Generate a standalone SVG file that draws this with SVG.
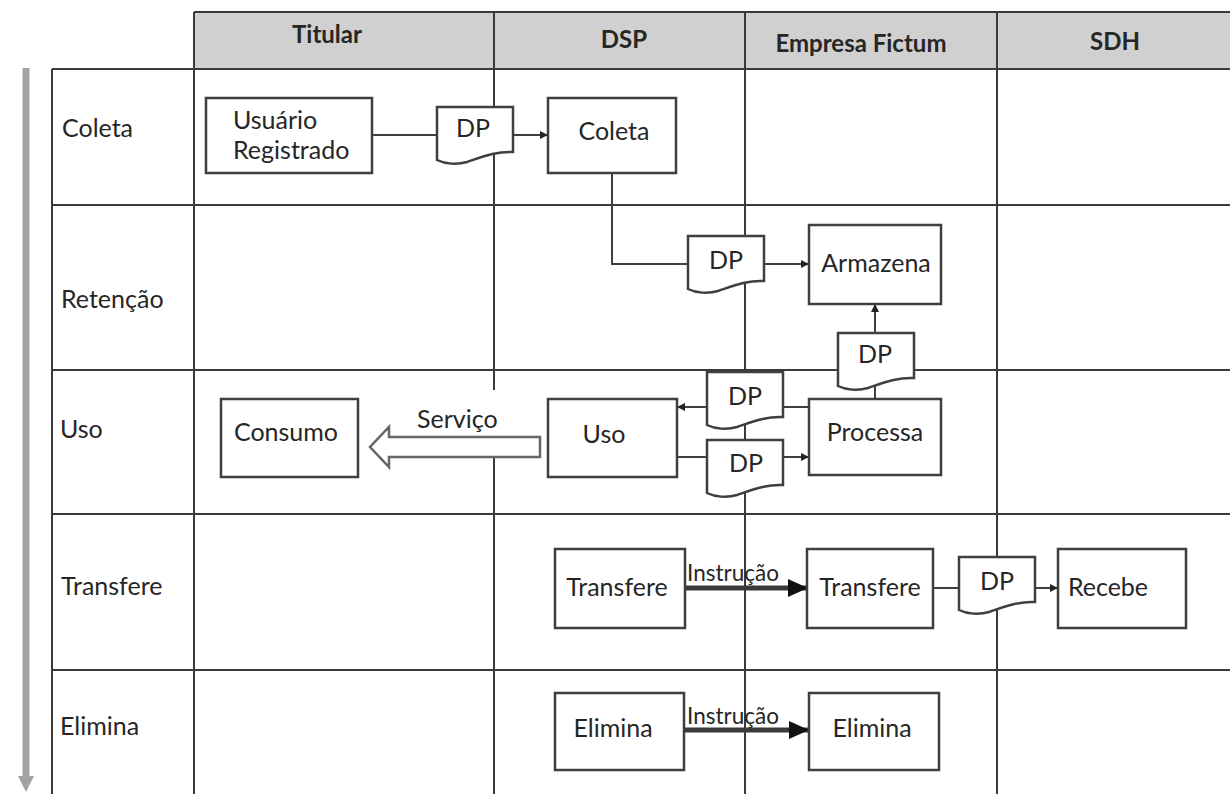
<svg xmlns="http://www.w3.org/2000/svg" xmlns:xlink="http://www.w3.org/1999/xlink" width="1230" height="794" viewBox="0 0 1230 794">
  <style>
    .grid { stroke: #3a3a3a; stroke-width: 2; fill: none; }
    .hdr { fill: #d0d0d0; stroke: none; }
    .htxt { font-family: Lato, "Open Sans", sans-serif; font-weight: bold; font-size: 24px; fill: #262626; text-anchor: middle; }
    .lbl { font-family: Lato, "Open Sans", sans-serif; font-size: 25px; fill: #262626; }
    .ntxt { font-family: Lato, "Open Sans", sans-serif; font-size: 25px; fill: #262626; text-anchor: middle; }
    .small { font-family: Lato, "Open Sans", sans-serif; font-size: 22.5px; fill: #262626; }
    .box { fill: #ffffff; stroke: #3f3f3f; stroke-width: 2.5; }
    .doc { fill: #ffffff; stroke: #3f3f3f; stroke-width: 2.5; }
    .conn { stroke: #3f3f3f; stroke-width: 2; fill: none; }
    .thick { stroke: #3a3a3a; stroke-width: 5; fill: none; }
    .hollow { fill: #ffffff; stroke: #666666; stroke-width: 2.5; }
  </style>
  <defs>
    <path id="docshape" d="M0,0 H76 V45 C60,44 45,50 30,55 C20,58 8,57 0,53 Z"/>
    <marker id="arr" markerUnits="userSpaceOnUse" markerWidth="9" markerHeight="8" refX="8" refY="4" orient="auto">
      <path d="M0,0 L8,4 L0,8 Z" fill="#222222"/>
    </marker>
    <marker id="big" markerUnits="userSpaceOnUse" markerWidth="22" markerHeight="18" refX="20" refY="9" orient="auto">
      <path d="M0,0 L20,9 L0,18 Z" fill="#111111"/>
    </marker>
  </defs>
  <rect width="1230" height="794" fill="#ffffff"/>

  <g id="grid">
    <rect class="hdr" x="194" y="12" width="1040" height="57"/>
    <line class="grid" x1="194" y1="12" x2="1230" y2="12"/>
    <line class="grid" x1="52" y1="69" x2="1230" y2="69"/>
    <line class="grid" x1="52" y1="205" x2="1230" y2="205"/>
    <line class="grid" x1="52" y1="370" x2="1230" y2="370"/>
    <line class="grid" x1="52" y1="514" x2="1230" y2="514"/>
    <line class="grid" x1="52" y1="670" x2="1230" y2="670"/>
    <line class="grid" x1="52" y1="69" x2="52" y2="794"/>
    <line class="grid" x1="194" y1="12" x2="194" y2="794"/>
    <line class="grid" x1="494" y1="12" x2="494" y2="794"/>
    <line class="grid" x1="745" y1="12" x2="745" y2="794"/>
    <line class="grid" x1="997" y1="12" x2="997" y2="794"/>
    <line x1="26" y1="68" x2="26" y2="778" stroke="#a3a3a3" stroke-width="7"/>
    <path d="M18,776 L34,776 L26,792 Z" fill="#a3a3a3"/>
    <text class="htxt" x="327" y="43">Titular</text>
    <text class="htxt" x="624" y="48">DSP</text>
    <text class="htxt" x="861" y="52">Empresa Fictum</text>
    <text class="htxt" x="1115" y="50">SDH</text>
    <text class="lbl" x="62" y="137">Coleta</text>
    <text class="lbl" x="61" y="308">Retenção</text>
    <text class="lbl" x="60" y="438">Uso</text>
    <text class="lbl" x="61" y="595">Transfere</text>
    <text class="lbl" x="60" y="735">Elimina</text>
  </g>

  <g id="connectors">
    <line class="conn" x1="372" y1="135" x2="437" y2="135"/>
    <line class="conn" x1="513" y1="135" x2="548" y2="135" marker-end="url(#arr)"/>
    <polyline class="conn" points="612,173 612,264 688,264"/>
    <line class="conn" x1="764" y1="264" x2="809" y2="264" marker-end="url(#arr)"/>
    <line class="conn" x1="875" y1="399" x2="875" y2="380"/>
    <line class="conn" x1="875" y1="333" x2="875" y2="304" marker-end="url(#arr)"/>
    <line class="conn" x1="809" y1="407" x2="782" y2="407"/>
    <line class="conn" x1="708" y1="407" x2="677" y2="407" marker-end="url(#arr)"/>
    <line class="conn" x1="677" y1="457" x2="708" y2="457"/>
    <line class="conn" x1="782" y1="457" x2="809" y2="457" marker-end="url(#arr)"/>
    <rect x="414" y="390" width="86" height="46" fill="#ffffff"/>
    <polygon class="hollow" points="540,437 389,437 389,427 370,447 389,467 389,457 540,457"/>
    <text class="lbl" x="417" y="428">Serviço</text>
    <line class="thick" x1="685" y1="588" x2="808" y2="588" marker-end="url(#big)"/>
    <text class="small" x="687" y="581">Instrução</text>
    <line class="conn" x1="933" y1="588" x2="959" y2="588"/>
    <line class="conn" x1="1035" y1="588" x2="1058" y2="588" marker-end="url(#arr)"/>
    <line class="thick" x1="684" y1="730" x2="809" y2="730" marker-end="url(#big)"/>
    <text class="small" x="687" y="724">Instrução</text>
  </g>

  <g id="node-usuario">
    <rect class="box" x="206" y="98" width="166" height="75"/>
    <text class="lbl" x="233" y="129">Usuário</text>
    <text class="lbl" x="233" y="159">Registrado</text>
  </g>
  <g id="node-dp1">
    <use xlink:href="#docshape" href="#docshape" class="doc" x="437" y="107"/>
    <text class="ntxt" x="473" y="137">DP</text>
  </g>
  <g id="node-coleta">
    <rect class="box" x="548" y="98" width="128" height="75"/>
    <text class="ntxt" x="614" y="140">Coleta</text>
  </g>
  <g id="node-dp2">
    <use xlink:href="#docshape" href="#docshape" class="doc" x="688" y="236"/>
    <text class="ntxt" x="726" y="269">DP</text>
  </g>
  <g id="node-armazena">
    <rect class="box" x="809" y="225" width="132" height="79"/>
    <text class="ntxt" x="876" y="272">Armazena</text>
  </g>
  <g id="node-dp3">
    <use xlink:href="#docshape" href="#docshape" class="doc" x="838" y="333"/>
    <text class="ntxt" x="875" y="363">DP</text>
  </g>
  <g id="node-processa">
    <rect class="box" x="809" y="399" width="132" height="76"/>
    <text class="ntxt" x="875" y="441">Processa</text>
  </g>
  <g id="node-dp4">
    <use xlink:href="#docshape" href="#docshape" class="doc" x="707" y="372"/>
    <text class="ntxt" x="745" y="405">DP</text>
  </g>
  <g id="node-dp5">
    <use xlink:href="#docshape" href="#docshape" class="doc" x="707" y="440"/>
    <text class="ntxt" x="746" y="472">DP</text>
  </g>
  <g id="node-uso">
    <rect class="box" x="548" y="399" width="129" height="78"/>
    <text class="ntxt" x="604" y="443">Uso</text>
  </g>
  <g id="node-consumo">
    <rect class="box" x="221" y="399" width="137" height="78"/>
    <text class="ntxt" x="286" y="441">Consumo</text>
  </g>
  <g id="node-transfere-dsp">
    <rect class="box" x="555" y="549" width="130" height="79"/>
    <text class="ntxt" x="617" y="596">Transfere</text>
  </g>
  <g id="node-transfere-empresa">
    <rect class="box" x="807" y="549" width="126" height="79"/>
    <text class="ntxt" x="870" y="596">Transfere</text>
  </g>
  <g id="node-dp6">
    <use xlink:href="#docshape" href="#docshape" class="doc" x="959" y="557"/>
    <text class="ntxt" x="997" y="590">DP</text>
  </g>
  <g id="node-recebe">
    <rect class="box" x="1058" y="549" width="128" height="79"/>
    <text class="ntxt" x="1108" y="596">Recebe</text>
  </g>
  <g id="node-elimina-dsp">
    <rect class="box" x="555" y="693" width="129" height="77"/>
    <text class="ntxt" x="613" y="737">Elimina</text>
  </g>
  <g id="node-elimina-empresa">
    <rect class="box" x="809" y="693" width="130" height="77"/>
    <text class="ntxt" x="872" y="737">Elimina</text>
  </g>
</svg>
